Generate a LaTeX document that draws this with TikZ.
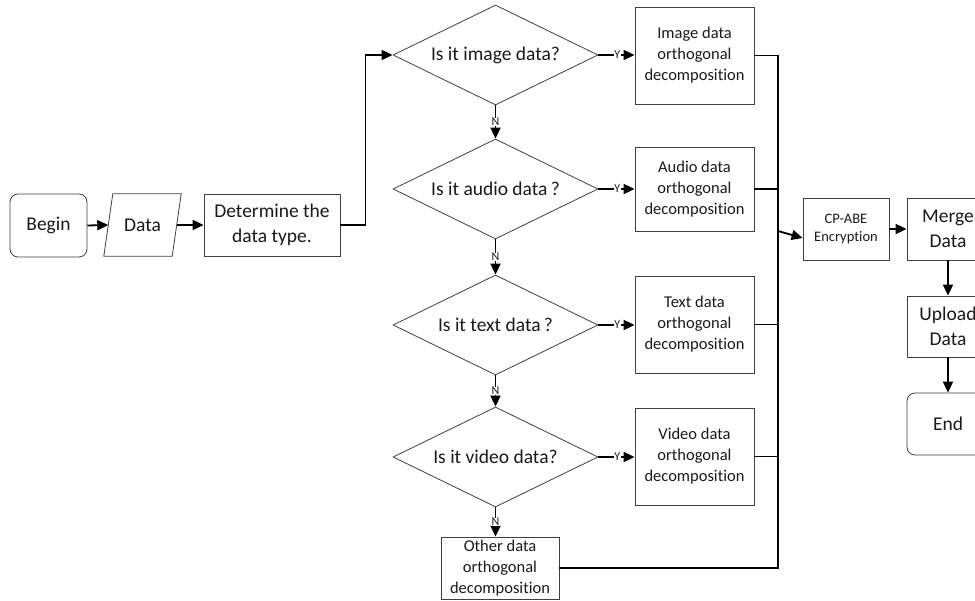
\documentclass[tikz,border=0pt]{standalone}
\usepackage{fontspec}
\setmainfont{Carlito}[Ligatures=NoCommon]
\usetikzlibrary{shapes.geometric,arrows.meta,calc}
\definecolor{edge}{HTML}{404040}
\definecolor{ink}{HTML}{1A1A1A}
\begin{document}
\begin{tikzpicture}[x=1pt,y=-1pt,
  proc/.style={draw=edge, line width=0.8pt, inner sep=0pt, align=center, text=ink,
    font=\fontsize{16.5}{21}\selectfont},
  big/.style={font=\fontsize{19.5}{25.5}\selectfont},
  small/.style={font=\fontsize{14.5}{18}\selectfont},
  terminal/.style={proc, big, rounded corners=8pt},
  decision/.style={diamond, draw=edge, line width=0.8pt, aspect=2.05,
    minimum width=205pt, minimum height=100pt, inner sep=0pt, text=ink,
    font=\fontsize{19.5}{24}\selectfont},
  conn/.style={line width=1.8pt, draw=black},
  arr/.style={conn, -{Triangle[length=11pt,width=10pt]}},
  yn/.style={fill=white, inner sep=0.6pt, text=ink, font=\fontsize{12}{13}\selectfont}]

\fill[white] (0,0) rectangle (975,601);
\useasboundingbox (0,0) rectangle (975,601);

% start of the flow
\node[terminal, minimum width=77pt, minimum height=63pt] (begin) at (48.5,225.5) {Begin};
\node[big, text=ink, minimum width=77pt, minimum height=62pt, inner sep=0pt] (data) at (142.5,225) {Data};
\draw[draw=edge, line width=0.8pt]
  ([xshift=9pt]data.north west) -- (data.north east)
  -- ([xshift=-9pt]data.south east) -- (data.south west) -- cycle;
\node[proc, big, minimum width=136pt, minimum height=62pt] (det) at (272,225) {Determine the\\data type.};

% type checks
\node[decision] (d1) at (495.5,55)  {Is it image data?};
\node[decision] (d2) at (495.5,189) {Is it audio data\,?};
\node[decision] (d3) at (495.5,325) {Is it text data\,?};
\node[decision] (d4) at (495.5,457) {Is it video data?};

% decompositions
\node[proc, minimum width=119pt, minimum height=97pt] (img) at (694.5,55.5) {Image data\\orthogonal\\decomposition};
\node[proc, minimum width=119pt, minimum height=84pt] (aud) at (694.5,189) {Audio data\\orthogonal\\decomposition};
\node[proc, minimum width=119pt, minimum height=97pt] (txt) at (694.5,324.5) {Text data\\orthogonal\\decomposition};
\node[proc, minimum width=119pt, minimum height=97pt] (vid) at (694.5,456.5) {Video data\\orthogonal\\decomposition};
\node[proc, minimum width=118pt, minimum height=62pt] (other) at (500,568) {Other data\\orthogonal\\decomposition};

% encryption and output
\node[proc, small, minimum width=86pt, minimum height=62pt] (cp) at (846,229) {CP-ABE\\Encryption};
\node[proc, big, minimum width=82pt, minimum height=62pt] (merge) at (948,229) {Merge\\Data};
\node[proc, big, minimum width=82pt, minimum height=61pt] (upload) at (948,326.5) {Upload\\Data};
\node[terminal, minimum width=82pt, minimum height=62pt] (end) at (948,424) {End};

% connectors
\draw[arr] (begin.east) -- ([xshift=4.5pt]data.west);
\draw[arr] ([xshift=-4.5pt]data.east) -- (det.west);
\draw[arr] (det.east) -- ++(25,0) |- (d1.west);

\draw[arr] (d1.east) -- node[yn, pos=0.52] {Y} (d1.east -| img.west);
\draw[arr] (d2.east) -- node[yn, pos=0.52] {Y} (d2.east -| aud.west);
\draw[arr] (d3.east) -- node[yn, pos=0.52] {Y} (d3.east -| txt.west);
\draw[arr] (d4.east) -- node[yn, pos=0.52] {Y} (d4.east -| vid.west);

\draw[arr] (d1.south) -- node[yn] {N} (d2.north);
\draw[arr] (d2.south) -- node[yn] {N} (d3.north);
\draw[arr] (d3.south) -- node[yn] {N} (d4.north);
\draw[arr] (d4.south) -- node[yn] {N} (d4.south |- other.north);

\coordinate (busbot) at (778,568);
\coordinate (tap) at (778,231);
\draw[conn] (img.east) -| (busbot) -- (other.east);
\draw[conn] (aud.east) -- (aud.east -| busbot);
\draw[conn] (txt.east) -- (txt.east -| busbot);
\draw[conn] (vid.east) -- (vid.east -| busbot);

\draw[arr] (tap) -- ([yshift=-9pt]cp.west);
\draw[arr] (cp.east) -- (merge.west);
\draw[arr] (merge.south) -- (upload.north);
\draw[arr] (upload.south) -- (end.north);
\end{tikzpicture}
\end{document}
